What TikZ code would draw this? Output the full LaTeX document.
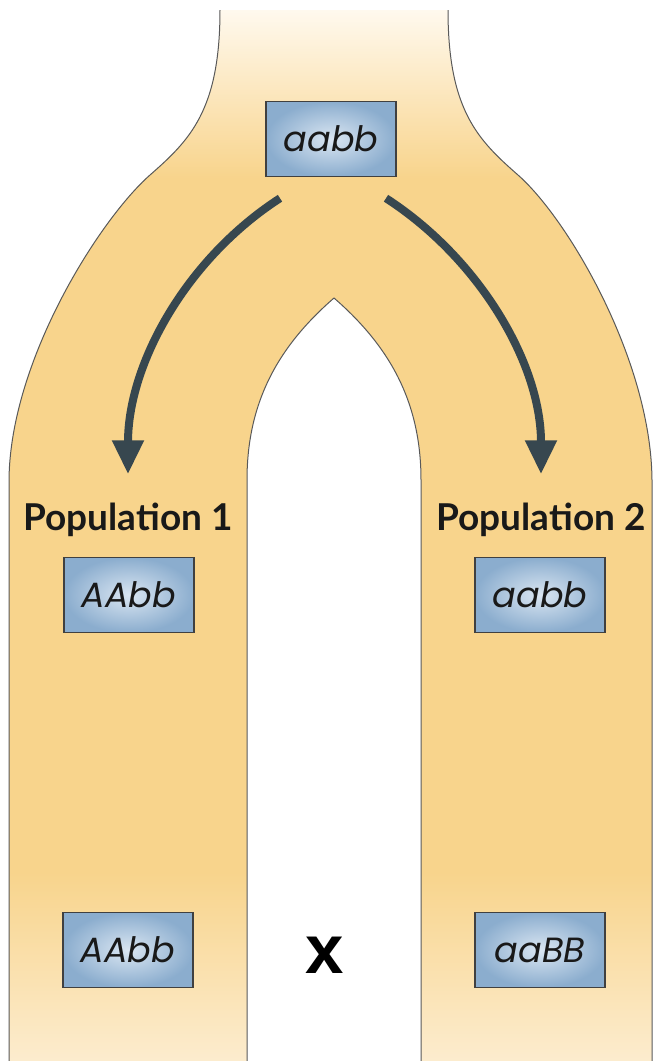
\documentclass[tikz,border=0pt]{standalone}
\usepackage{fontspec}
\setmainfont{Lato}
\newfontfamily\genefont{Poppins}
\newfontfamily\crossfont{Liberation Sans}
\usetikzlibrary{arrows.meta,calc}
\definecolor{forkfill}{RGB}{248,212,140}
\definecolor{forktop}{RGB}{255,249,238}
\definecolor{forkbot}{RGB}{252,236,206}
\definecolor{boxblue}{RGB}{139,173,206}
\definecolor{boxlight}{RGB}{218,230,242}
\definecolor{arrowgrey}{RGB}{55,71,79}
\pgfdeclareverticalshading{forkfade}{100bp}{color(0bp)=(forkbot); color(25bp)=(forkbot); color(34bp)=(forkfill); color(67bp)=(forkfill); color(75bp)=(forktop); color(100bp)=(forktop)}

\begin{document}
\begin{tikzpicture}[x=1pt,y=-1pt,
	gene/.style={draw=black!75,line width=1.5pt,inner color=boxlight,outer color=boxblue,
		minimum width=130pt,minimum height=75pt,text=black!90,
		font=\genefont\itshape\fontsize{35}{38}\selectfont},
	poplabel/.style={inner sep=0pt,anchor=base,text=black!90,
		font=\bfseries\fontsize{37}{40}\selectfont},
	forkline/.style={draw=black!65,line width=1pt},
	drift/.style={arrowgrey,line width=8pt,-{Triangle[width=30pt,length=34pt]}}]
	\useasboundingbox (0,0) rectangle (654,1061);
%	\draw[red] (0,0) rectangle (654,1061);
	\shade[shading=forkfade] (220,10) .. controls (220,110) and (190,140) .. (150,175)
		.. controls (100,219) and (10,360) .. (9,480) -- (9,1061) -- (652,1061) -- (652,480)
		.. controls (651,360) and (568,219) .. (518,175)
		.. controls (478,140) and (448,110) .. (448,10) -- cycle;
	\fill[white] (247,1061) -- (247,480) .. controls (247,400) and (280,345) .. (334,298)
		.. controls (388,345) and (421,400) .. (421,480) -- (421,1061) -- cycle;
	\draw[forkline] (220,10) .. controls (220,110) and (190,140) .. (150,175)
		.. controls (100,219) and (10,360) .. (9,480) -- (9,1061);
	\draw[forkline] (448,10) .. controls (448,110) and (478,140) .. (518,175)
		.. controls (568,219) and (651,360) .. (652,480) -- (652,1061);
	\draw[forkline] (247,1061) -- (247,480) .. controls (247,400) and (280,345) .. (334,298)
		.. controls (388,345) and (421,400) .. (421,480) -- (421,1061);
	\node[gene] (anc) at (331,139) {aabb};
	\node[poplabel] (popA) at (128,530) {Population 1};
	\node[poplabel] (popB) at (541,530) {Population 2};
	\node[gene] (oneA) at (129,595) {AAbb};
	\node[gene] (twoA) at (540,595) {aabb};
	\node[gene] (oneB) at (128,950) {AAbb};
	\node[gene] (twoB) at (540,950) {aaBB};
	\node[font=\crossfont\bfseries\fontsize{69}{70}\selectfont] (cross) at (325,955) {x};
	\draw[drift] ($(anc.south)+(-51,21)$) .. controls +(-93,60) and +(0,-111) .. ([yshift=28pt]popA.north);
	\draw[drift] ($(anc.south)+(55,21)$) .. controls +(93,60) and +(0,-111) .. ([yshift=28pt]popB.north);
\end{tikzpicture}
\end{document}
